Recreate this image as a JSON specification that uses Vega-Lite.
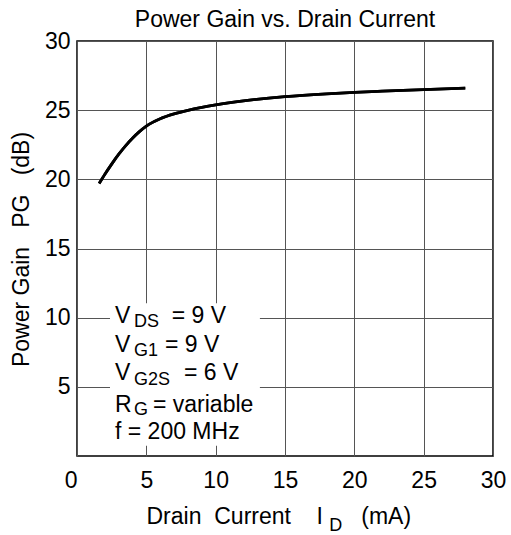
{
  "$schema": "https://vega.github.io/schema/vega-lite/v6.json",
  "width": 416,
  "height": 415,
  "autosize": {"type": "none"},
  "padding": {"left": 77, "top": 41, "right": 18, "bottom": 79},
  "background": "white",
  "config": {
    "font": "Liberation Sans",
    "view": {"stroke": "black", "strokeWidth": 1.5},
    "axis": {"labelFont": "Liberation Sans", "titleFont": "Liberation Sans", "labelColor": "black", "titleColor": "black", "titleFontWeight": "normal"}
  },
  "title": {"text": "Power Gain vs. Drain Current", "fontSize": 23, "fontWeight": "normal", "font": "Liberation Sans", "color": "black", "baseline": "alphabetic", "offset": -20},
  "datasets": {
    "curve": [
      {"id": 1.6, "pg": 19.7},
      {"id": 2.0, "pg": 20.35},
      {"id": 2.5, "pg": 21.1},
      {"id": 3.0, "pg": 21.8},
      {"id": 3.5, "pg": 22.42},
      {"id": 4.0, "pg": 22.97},
      {"id": 4.5, "pg": 23.45},
      {"id": 5.0, "pg": 23.85},
      {"id": 6.0, "pg": 24.38},
      {"id": 7.0, "pg": 24.73},
      {"id": 8.0, "pg": 24.99},
      {"id": 9.0, "pg": 25.2},
      {"id": 10, "pg": 25.38},
      {"id": 12, "pg": 25.67},
      {"id": 15, "pg": 25.98},
      {"id": 18, "pg": 26.18},
      {"id": 20, "pg": 26.28},
      {"id": 22, "pg": 26.37},
      {"id": 25, "pg": 26.49},
      {"id": 28, "pg": 26.6}
    ],
    "box": [{"x1": 2.38, "x2": 13.19, "y1": 0.74, "y2": 11.04}],
    "notes": [
      {"x": 2.74, "y": 9.62, "t": "V", "k": "m"},
      {"x": 4.11, "y": 9.35, "t": "DS", "k": "s"},
      {"x": 6.83, "y": 9.62, "t": "= 9 V", "k": "m"},
      {"x": 2.74, "y": 7.54, "t": "V", "k": "m"},
      {"x": 4.11, "y": 7.23, "t": "G1", "k": "s"},
      {"x": 6.34, "y": 7.54, "t": "= 9 V", "k": "m"},
      {"x": 2.74, "y": 5.5, "t": "V", "k": "m"},
      {"x": 4.11, "y": 5.13, "t": "G2S", "k": "s"},
      {"x": 7.71, "y": 5.5, "t": "= 6 V", "k": "m"},
      {"x": 2.74, "y": 3.2, "t": "R", "k": "m"},
      {"x": 4.11, "y": 2.96, "t": "G", "k": "s"},
      {"x": 5.48, "y": 3.2, "t": "= variable", "k": "m"},
      {"x": 2.74, "y": 1.21, "t": "f = 200 MHz", "k": "m"},
      {"x": 18.2, "y": -5.42, "t": "D", "k": "s"}
    ]
  },
  "layer": [
    {
      "data": {"name": "curve"},
      "mark": {"type": "line", "color": "black", "strokeWidth": 2.8, "interpolate": "monotone"},
      "encoding": {
        "x": {"field": "id", "type": "quantitative",
          "scale": {"domain": [0, 30], "nice": false, "zero": false},
          "axis": {"values": [0, 5, 10, 15, 20, 25, 30], "grid": true, "gridColor": "#555", "gridWidth": 1, "ticks": false, "domain": false,
            "labelFontSize": 23, "labelPadding": 13, "labelFlush": false,
            "labelAlign": {"condition": {"test": "datum.value === 0", "value": "right"}, "value": "center"},
            "title": "Drain\u00a0\u00a0Current\u00a0\u00a0\u00a0\u00a0I\u00a0\u00a0\u00a0\u00a0\u00a0\u00a0(mA)", "titleFontSize": 23, "titleAlign": "left", "titleAnchor": "start", "titleX": 69, "titleY": 67, "titleBaseline": "alphabetic"}},
        "y": {"field": "pg", "type": "quantitative",
          "scale": {"domain": [0, 30], "nice": false, "zero": false},
          "axis": {"values": [5, 10, 15, 20, 25, 30], "grid": true, "gridColor": "#555", "gridWidth": 1, "ticks": false, "domain": false,
            "labelFontSize": 23, "labelPadding": 7, "labelFlush": false,
            "title": "Power Gain\u00a0\u00a0\u00a0PG\u00a0\u00a0\u00a0(dB)", "titleFontSize": 23, "titleAngle": -90, "titleAlign": "center", "titleX": -49, "titleY": 208, "titleBaseline": "alphabetic"}}
      }
    },
    {
      "data": {"name": "box"},
      "mark": {"type": "rect", "fill": "white"},
      "encoding": {
        "x": {"field": "x1", "type": "quantitative"},
        "x2": {"field": "x2"},
        "y": {"field": "y1", "type": "quantitative"},
        "y2": {"field": "y2"}
      }
    },
    {
      "data": {"name": "curve"},
      "mark": {"type": "line", "color": "black", "strokeWidth": 2.8, "interpolate": "monotone"},
      "encoding": {
        "x": {"field": "id", "type": "quantitative"},
        "y": {"field": "pg", "type": "quantitative"}
      }
    },
    {
      "data": {"name": "notes"},
      "transform": [{"filter": "datum.k === 'm'"}],
      "mark": {"type": "text", "align": "left", "baseline": "alphabetic", "fontSize": 23, "font": "Liberation Sans", "color": "black"},
      "encoding": {
        "x": {"field": "x", "type": "quantitative"},
        "y": {"field": "y", "type": "quantitative"},
        "text": {"field": "t"}
      }
    },
    {
      "data": {"name": "notes"},
      "transform": [{"filter": "datum.k === 's'"}],
      "mark": {"type": "text", "align": "left", "baseline": "alphabetic", "fontSize": 18, "font": "Liberation Sans", "color": "black"},
      "encoding": {
        "x": {"field": "x", "type": "quantitative"},
        "y": {"field": "y", "type": "quantitative"},
        "text": {"field": "t"}
      }
    }
  ]
}
